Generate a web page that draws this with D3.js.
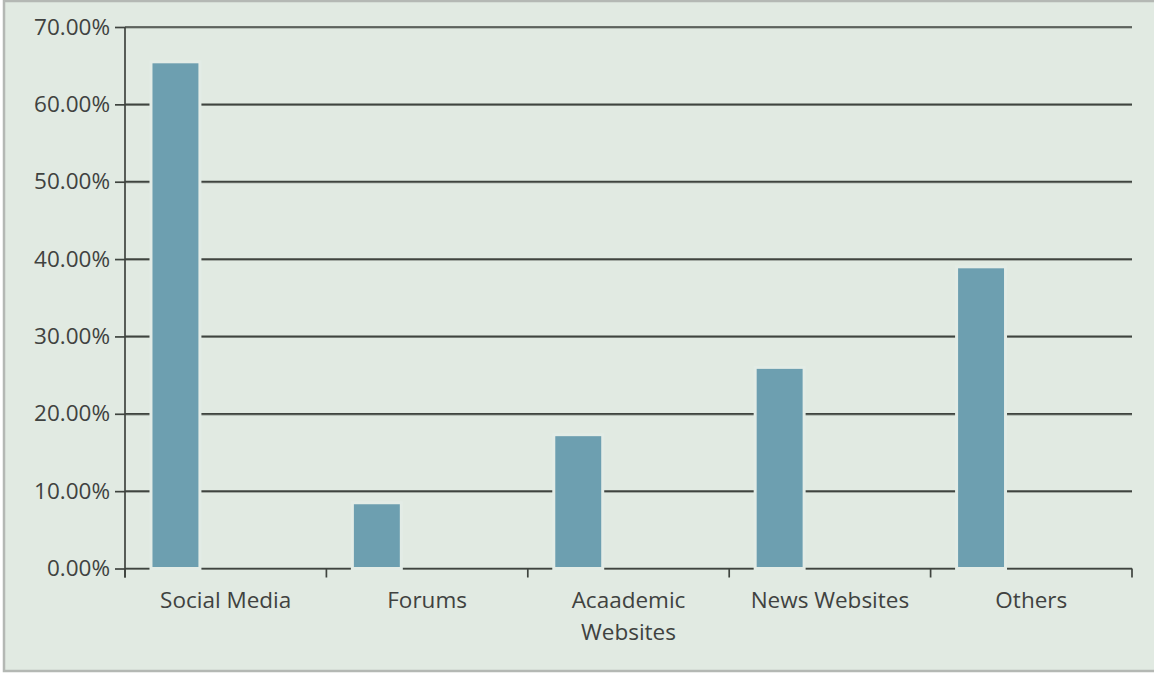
<!DOCTYPE html>
<html>
<head>
<meta charset="utf-8">
<script src="https://cdn.jsdelivr.net/npm/d3@7"></script>
<style>
  html, body { margin: 0; padding: 0; background: #ffffff; }
  svg { display: block; }
  text { font-family: "Open Sans", "Noto Sans", sans-serif; fill: #404240; }
</style>
</head>
<body>
<script>
// Share of respondents by information source
const categories = ["Social Media", "Forums", "Acaademic Websites", "News Websites", "Others"];
const labelLines = [["Social Media"], ["Forums"], ["Acaademic", "Websites"], ["News Websites"], ["Others"]];
const shares = [65.5, 8.5, 17.3, 26.0, 39.0];
const yTicks = [0, 10, 20, 30, 40, 50, 60, 70];

const W = 1154, H = 673;
const plot = { left: 125, right: 1132, top: 27, bottom: 568.5 };

const svg = d3.select("body").append("svg").attr("width", W).attr("height", H);

// panel background with thin grey frame
svg.append("rect")
  .attr("x", 4).attr("y", 1).attr("width", W + 10).attr("height", H - 3)
  .attr("fill", "#e1eae2").attr("stroke", "#b4b8b4").attr("stroke-width", 2.5);

const x = d3.scaleBand().domain(categories).range([plot.left, plot.right]).padding(0);
const y = d3.scaleLinear().domain([0, 70]).range([plot.bottom, plot.top]);

// horizontal gridlines (dark line with a soft grey shadow)
const grid = svg.append("g");
grid.selectAll("line.shadow").data(yTicks).join("line")
  .attr("class", "shadow")
  .attr("x1", plot.left).attr("x2", plot.right)
  .attr("y1", d => y(d) + 1).attr("y2", d => y(d) + 1)
  .attr("stroke", "#8e958e").attr("stroke-width", 1.2);
grid.selectAll("line.main").data(yTicks).join("line")
  .attr("class", "main")
  .attr("x1", plot.left).attr("x2", plot.right)
  .attr("y1", d => y(d)).attr("y2", d => y(d))
  .attr("stroke", "#3f443f").attr("stroke-width", 1.7);

// y axis
const yAxis = d3.axisLeft(y).tickValues(yTicks).tickSize(10).tickPadding(5)
  .tickFormat(d => d3.format(".2f")(d) + "%");
const gy = svg.append("g").attr("transform", `translate(${plot.left},0)`).call(yAxis);
gy.select(".domain").remove();
gy.selectAll(".tick line").attr("stroke", "#3f443f").attr("stroke-width", 1.7);
gy.selectAll(".tick text").attr("font-size", 22.5).attr("fill", "#404240")
  .attr("font-family", "'Open Sans', sans-serif");

// vertical axis line, running down past the baseline like the ticks
svg.append("line")
  .attr("x1", plot.left).attr("x2", plot.left)
  .attr("y1", y(70)).attr("y2", plot.bottom + 9)
  .attr("stroke", "#3f443f").attr("stroke-width", 1.7);

// category boundary ticks below the baseline
const bounds = categories.map(c => x(c)).concat([plot.right]);
svg.append("g").selectAll("line").data(bounds).join("line")
  .attr("x1", d => d).attr("x2", d => d)
  .attr("y1", plot.bottom).attr("y2", plot.bottom + 9)
  .attr("stroke", "#3f443f").attr("stroke-width", 1.7);

// bars: sit in the left part of each category slot
const bw = x.bandwidth();
const barOffset = bw * 0.129, barWidth = bw * 0.243;
svg.append("g").selectAll("rect").data(categories).join("rect")
  .attr("x", (c) => x(c) + barOffset)
  .attr("width", barWidth)
  .attr("y", (c, i) => y(shares[i]))
  .attr("height", (c, i) => y(0) - y(shares[i]))
  .attr("fill", "#6d9fb0")
  .attr("stroke", "#e3ece6").attr("stroke-width", 3);

// category labels centred in each slot
const xl = svg.append("g").selectAll("text").data(categories).join("text")
  .attr("x", c => x(c) + bw / 2)
  .attr("y", 608)
  .attr("text-anchor", "middle")
  .attr("font-size", 22.5);
xl.each(function(c, i) {
  const t = d3.select(this);
  labelLines[i].forEach((line, k) => {
    t.append("tspan").attr("x", x(c) + bw / 2).attr("dy", k === 0 ? 0 : 32).text(line);
  });
});
</script>
</body>
</html>
